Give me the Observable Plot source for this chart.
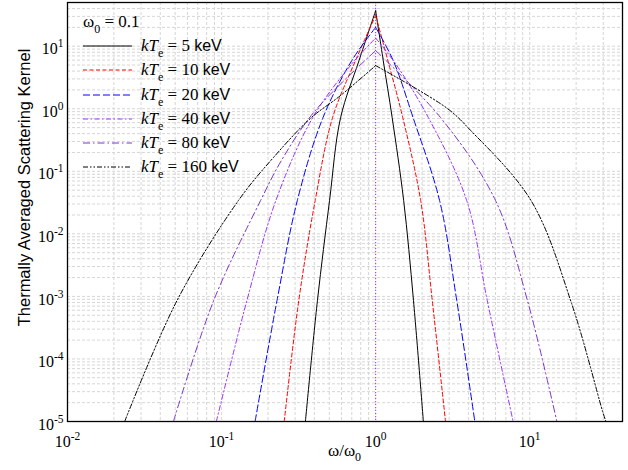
<!DOCTYPE html>
<html><head><meta charset="utf-8">
<script src="https://cdn.jsdelivr.net/npm/d3@7"></script>
<script src="https://cdn.jsdelivr.net/npm/@observablehq/plot@0.6"></script>
<style>
body{margin:0;background:#fff;}
#wrap{position:relative;width:628px;height:470px;overflow:hidden;}
#legend{position:absolute;left:83px;top:10px;font-family:"Liberation Serif","DejaVu Serif",serif;font-size:17px;color:#000;}
#legend .row{height:24.2px;display:flex;align-items:center;white-space:nowrap;}
#legend .sw{width:49px;height:10px;margin-right:9px;flex:none;}
#legend .sans{font-family:"Liberation Sans",Arial,sans-serif;font-size:16px;}
#legend sub{font-size:12px;position:relative;top:6px;vertical-align:baseline;}
#legend i{font-style:italic;}
.atitle{position:absolute;font-family:"Liberation Sans",Arial,sans-serif;font-size:16.5px;color:#000;white-space:nowrap;}
.atitle.serif{font-family:"Liberation Serif","DejaVu Serif",serif;font-size:17px;}
.atitle sub{font-size:12px;position:relative;top:5px;vertical-align:baseline;}
</style></head><body><div id="wrap"></div>
<script>
// ---- data ----
const temperatures = [5, 10, 20, 40, 80, 160]; // kT_e in keV
const omega0 = 0.1;

const omega5   = [0.350, 0.419, 0.502, 0.592, 0.78, 1, 1.12, 1.28, 1.52, 1.76, 2.04];
const kernel5  = [1e-5, 8.6e-4, 0.034, 0.72, 5.9, 37, 5.9, 0.72, 0.034, 8.6e-4, 1e-5];

const omega10  = [0.255, 0.317, 0.405, 0.525, 0.74, 1, 1.2, 1.5, 1.96, 2.33, 2.84];
const kernel10 = [1e-5, 8.6e-4, 0.034, 0.72, 5.9, 31, 5.9, 0.72, 0.034, 8.6e-4, 1e-5];

const omega20  = [0.165, 0.229, 0.31, 0.455, 0.70, 1, 1.3, 1.75, 2.6, 3.36, 4.4];
const kernel20 = [1e-5, 8.6e-4, 0.034, 0.72, 5.9, 20, 5.9, 0.72, 0.034, 8.6e-4, 1e-5];

const omega40  = [0.0925, 0.146, 0.225, 0.39, 0.70, 1, 1.35, 2.2, 3.9, 5.3, 7.8];
const kernel40 = [1e-5, 8.6e-4, 0.034, 0.72, 5.2, 13.5, 5.2, 0.72, 0.034, 8.6e-4, 1e-5];

const omega80  = [0.0487, 0.0889, 0.179, 0.245, 0.40, 1, 2.64, 6.0, 9.66, 15.0];
const kernel80 = [1e-5, 8.6e-4, 0.034, 0.15, 0.9, 8.5, 0.72, 0.034, 8.6e-4, 1e-5];

const omega160  = [0.0235, 0.0514, 0.1285, 0.217, 0.377, 0.592, 1, 2.92, 4.14, 10.2, 18.7, 29.6, 31.2];
const kernel160 = [1e-5, 8.6e-4, 0.034, 0.166, 0.70, 1.63, 4.9, 1.01, 0.449, 0.034, 7.7e-4, 1.5e-5, 1e-5];

const omegaSeries  = [omega5, omega10, omega20, omega40, omega80, omega160];
const kernelSeries = [kernel5, kernel10, kernel20, kernel40, kernel80, kernel160];

const xTicks = [0.01, 0.1, 1, 10];
const yTicks = [1e-5, 1e-4, 1e-3, 1e-2, 1e-1, 1, 10];
const xDomain = [0.01, 40];
const yDomain = [1e-5, 50];

const colors  = ["#000000", "#ff0000", "#0000ff", "#9933ff", "#7d33cc", "#000000"];
const dashes  = ["none", "4,2.5", "7,3", "5,2.5,1.5,2.5", "7,3,1.5,3", "5,2,1.5,2,1.5,2"];

const SERIF = '"Liberation Serif","DejaVu Serif",serif';

// ---- build tables: left branch ends at the peak, right branch starts at it ----
const curves = temperatures.map((T, s) => {
  const om = omegaSeries[s], k = kernelSeries[s];
  const left = [], right = [];
  om.forEach((w, i) => {
    if (w <= 1) left.push({omega: w, kernel: k[i], branch: "L"});
    if (w >= 1) right.push({omega: w, kernel: k[i], branch: "R"});
  });
  return left.concat(right);
});

// grid positions (1..9 x 10^k)
const gridX = [], gridY = [];
for (let e = -2; e <= 1; e++) for (let m = 1; m <= 9; m++) { const v = m * 10 ** e; if (v >= xDomain[0] && v <= xDomain[1]) gridX.push(v); }
for (let e = -5; e <= 1; e++) for (let m = 1; m <= 9; m++) { const v = m * 10 ** e; if (v >= yDomain[0] && v <= yDomain[1]) gridY.push(v); }

const marks = [
  Plot.ruleX(gridX, {x: d => d, stroke: "#d6d6d6", strokeWidth: 1, strokeDasharray: "3,2"}),
  Plot.ruleY(gridY, {y: d => d, stroke: "#d6d6d6", strokeWidth: 1, strokeDasharray: "3,2"}),
  Plot.ruleX([1], {x: d => d, stroke: "#9933ff", strokeWidth: 1, strokeDasharray: "1,2"}),
];
curves.forEach((rows, s) => {
  marks.push(Plot.line(rows, {
    x: "omega", y: "kernel", z: "branch", stroke: colors[s], strokeWidth: 1,
    strokeDasharray: dashes[s] === "none" ? undefined : dashes[s], curve: "catmull-rom", clip: true
  }));
});
marks.push(
  Plot.frame({stroke: "#000", strokeWidth: 1.3}),
  Plot.text(xTicks, {x: d => d, y: yDomain[0], text: d => "10^" + Math.round(Math.log10(d)), dy: 20, fontFamily: SERIF, fontSize: 16, fill: "#000", textAnchor: "middle"}),
  Plot.text(yTicks, {x: xDomain[0], y: d => d, text: d => "10^" + Math.round(Math.log10(d)), dx: -4, dy: 3, fontFamily: SERIF, fontSize: 16, fill: "#000", textAnchor: "end"})
);

const chart = Plot.plot({
  width: 628, height: 470,
  marginLeft: 67, marginRight: 6, marginTop: 2, marginBottom: 49,
  x: {type: "log", domain: xDomain, axis: null},
  y: {type: "log", domain: yDomain, axis: null},
  style: {background: "#fff", overflow: "visible"},
  marks
});

// superscripts as tspans
d3.select(chart).selectAll("text").each(function() {
  const t = this.textContent;
  const m = t.match(/^(.*?)\^(.+)$/);
  if (!m) return;
  const el = d3.select(this);
  el.text(null);
  el.append("tspan").text(m[1]);
  el.append("tspan").attr("dy", "-7").attr("font-size", "11.5").text(m[2]);
});

const wrap = document.getElementById("wrap");
wrap.appendChild(chart);

// axis titles
const xt = document.createElement("div");
xt.className = "atitle serif";
xt.innerHTML = "ω/ω<sub>0</sub>";
wrap.appendChild(xt);
xt.style.left = (344.5 - xt.offsetWidth / 2) + "px";
xt.style.top = (451 - xt.offsetHeight / 2) + "px";

const yt = document.createElement("div");
yt.className = "atitle";
yt.textContent = "Thermally Averaged Scattering Kernel";
wrap.appendChild(yt);
const w = yt.offsetWidth, h = yt.offsetHeight;
yt.style.left = (25 - w / 2) + "px";
yt.style.top = (187 - h / 2) + "px";
yt.style.transform = "rotate(-90deg)";

// legend
const legend = document.createElement("div");
legend.id = "legend";
let html = `<div class="row"><span>ω<sub>0</sub> = ${omega0}</span></div>`;
temperatures.forEach((T, s) => {
  const da = dashes[s] === "none" ? "" : `stroke-dasharray="${dashes[s]}"`;
  html += `<div class="row"><svg class="sw" width="49" height="10"><line x1="0" x2="49" y1="5" y2="5" stroke="${colors[s]}" stroke-width="1" ${da}/></svg><span><i>kT</i><sub>e</sub> = ${T} <span class="sans">keV</span></span></div>`;
});
legend.innerHTML = html;
wrap.appendChild(legend);
</script></body></html>
